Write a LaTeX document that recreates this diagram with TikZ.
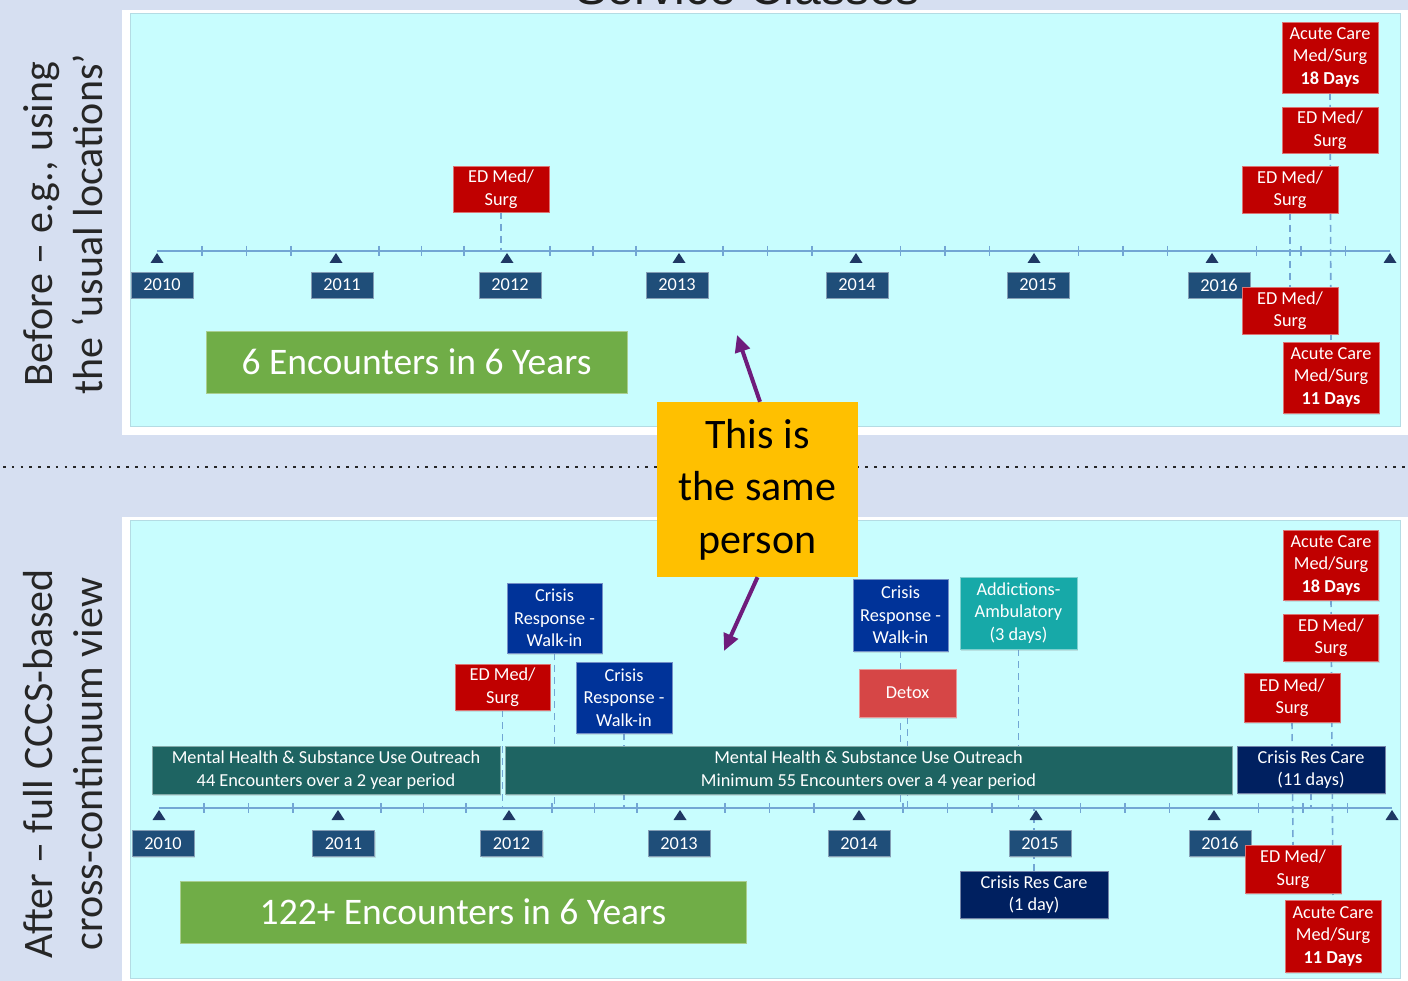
\documentclass[tikz,border=0pt]{standalone}
\usepackage{fontspec}
\setmainfont{Carlito}
\newfontfamily\titlefont{Liberation Sans}
\usetikzlibrary{arrows.meta,calc,shadows}

\definecolor{pagebg}{HTML}{D6DFF1}
\definecolor{panelcyan}{HTML}{C8FDFE}
\definecolor{cyanedge}{HTML}{B4DCE4}
\definecolor{edred}{HTML}{C00000}
\definecolor{detoxred}{HTML}{D64646}
\definecolor{crisisblue}{HTML}{003399}
\definecolor{resnavy}{HTML}{002060}
\definecolor{addteal}{HTML}{17A9A8}
\definecolor{outreach}{HTML}{1E6462}
\definecolor{yearblue}{HTML}{1F4E79}
\definecolor{trinavy}{HTML}{1F3864}
\definecolor{axisblue}{HTML}{72A6D4}
\definecolor{countgreen}{HTML}{70AD47}
\definecolor{noteyellow}{HTML}{FFC000}
\definecolor{arrowpurple}{HTML}{6E1C7C}

\newcommand\boxfont{\fontsize{18.3}{22.5}\selectfont}
\newcommand\sidefont{\fontsize{42}{50}\selectfont}

\pgfdeclarelayer{panels}
\pgfdeclarelayer{events}
\pgfsetlayers{panels,events,main}

\begin{document}
\begin{tikzpicture}[x=1pt,y=-1pt,
  evbox/.style={rectangle, inner sep=0pt, outer sep=0pt, align=center,
    text=white, font=\boxfont, fill=#1, draw=#1!55!white, line width=0.7pt,
    drop shadow={shadow xshift=1.2pt, shadow yshift=-1.5pt, opacity=0.22}},
  wh/.style 2 args={minimum width=#1pt, minimum height=#2pt},
  yearbox/.style={evbox=yearblue, wh={62}{26}, drop shadow={opacity=0}},
  countbox/.style={rectangle, inner sep=0pt, fill=countgreen,
    draw=countgreen!60!white, line width=0.7pt, text=white,
    font=\fontsize{37.5}{40}\selectfont},
  axisline/.style={draw=axisblue, line width=1.6pt},
  evline/.style={draw=axisblue, line width=1.6pt, dash pattern=on 7pt off 5pt},
  tri/.style={fill=trinavy},
  parrow/.style={draw=arrowpurple, line width=4pt,
    -{Triangle[length=17pt,width=15pt]}},
  sepline/.style={draw=black!85, line width=2.6pt, dash pattern=on 2.6pt off 6.2pt},
]
\clip (0,0) rectangle (1408,981);

% ---------- backdrop, panels, separator, side captions ----------
\begin{pgfonlayer}{panels}
  \fill[pagebg] (0,0) rectangle (1408,981);
  \node[anchor=base, font=\titlefont\fontsize{48}{48}\selectfont, text=black!88]
    (title) at (748,5) {Service Classes};
  \fill[white] (122,10) rectangle (1408,435);
  \filldraw[fill=panelcyan, draw=cyanedge, line width=0.8pt] (130,13) rectangle (1400,426);
  \fill[white] (122,517) rectangle (1408,981);
  \filldraw[fill=panelcyan, draw=cyanedge, line width=0.8pt] (130,520) rectangle (1400,978);
  \draw[sepline] (3,467) -- (1408,467);
  \node[rotate=90, align=center, font=\sidefont, text=black!85] (capbefore)
    at (63,224) {Before – e.g., using\\the ‘usual locations’};
  \node[rotate=90, align=center, font=\sidefont, text=black!85] (capafter)
    at (63,764) {After – full CCCS-based\\cross-continuum view};
\end{pgfonlayer}

% ---------- top timeline ----------
\draw[axisline] (157,251) coordinate (tAx0) -- (1390,251) coordinate (tAx1);
\foreach \a/\b in {157/336,336/507,507/679,679/856,856/1034,1034/1212,1212/1390}
  \foreach \k in {1,2,3}
    \draw[axisline] ({\a+(\b-\a)*\k/4},246) -- ++(0,10);
\foreach \p in {157,336,507,679,856,1034,1212,1390}
  \fill[tri] (\p,253) -- ++(6.5,10) -- ++(-13,0) -- cycle;
\foreach \c/\t in {162/2010,342/2011,510/2012,677/2013,857/2014,1038/2015,1219/2016}
  \node[yearbox] (ty\t) at (\c,285) {\t};

% ---------- bottom timeline ----------
\draw[axisline] (159,808) coordinate (bAx0) -- (1392,808) coordinate (bAx1);
\foreach \a/\b in {159/338,338/509,509/680,680/859,859/1036,1036/1214,1214/1392}
  \foreach \k in {1,2,3}
    \draw[axisline] ({\a+(\b-\a)*\k/4},803) -- ++(0,10);
\foreach \p in {159,338,509,680,859,1036,1214,1392}
  \fill[tri] (\p,810) -- ++(6.5,10) -- ++(-13,0) -- cycle;
\foreach \c/\t in {163/2010,343.5/2011,511.5/2012,679/2013,859/2014,1040/2015,1220/2016}
  \node[yearbox] (by\t) at (\c,843.5) {\t};

% ---------- top panel encounters ----------
\node[evbox=edred, wh={96}{46}] (tE1) at (501,189) {ED Med/\\Surg};
\node[evbox=edred, wh={96}{71}] (tA18) at (1330,57.5) {Acute Care\\Med/Surg\\\textbf{18 Days}};
\node[evbox=edred, wh={96}{46}] (tE3) at (1330,130) {ED Med/\\Surg};
\node[evbox=edred, wh={96}{47}] (tE2) at (1290,189.5) {ED Med/\\Surg};
\node[evbox=edred, wh={96}{47}] (tE4) at (1290,310.5) {ED Med/\\Surg};
\node[evbox=edred, wh={96}{71}] (tA11) at (1331,377.5) {Acute Care\\Med/Surg\\\textbf{11 Days}};
\node[countbox, wh={421}{62}] (tcount) at (416.5,362) {6 Encounters in 6 Years};

% ---------- bottom panel encounters ----------
\node[evbox=outreach, wh={348}{48}] (bO1) at (326,770)
  {Mental Health \& Substance Use Outreach\\44 Encounters over a 2 year period};
\node[evbox=outreach, wh={727}{48}] (bO2) at (868.5,770)
  {Mental Health \& Substance Use Outreach\\Minimum 55 Encounters over a 4 year period};
\node[evbox=edred, wh={95}{46}] (bE1) at (502.5,687) {ED Med/\\Surg};
\node[evbox=crisisblue, wh={95}{70}] (bC1) at (554.5,618) {Crisis\\Response -\\Walk-in};
\node[evbox=crisisblue, wh={96}{71}] (bC2) at (624,697.5) {Crisis\\Response -\\Walk-in};
\node[evbox=crisisblue, wh={95}{72}] (bC3) at (900.5,615) {Crisis\\Response -\\Walk-in};
\node[evbox=detoxred, wh={97}{48}] (bDx) at (907.5,693) {Detox};
\node[evbox=addteal, wh={117}{72}] (bAd) at (1018.5,613) {Addictions-\\Ambulatory\\(3 days)};
\node[evbox=resnavy, wh={148}{47}] (bCR11) at (1311,769.5) {Crisis Res Care\\(11 days)};
\node[evbox=resnavy, wh={148}{47}] (bCR1) at (1034,894.5) {Crisis Res Care\\(1 day)};
\node[evbox=edred, wh={95}{70}] (bA18) at (1331,565) {Acute Care\\Med/Surg\\\textbf{18 Days}};
\node[evbox=edred, wh={95}{47}] (bE3) at (1331,637.5) {ED Med/\\Surg};
\node[evbox=edred, wh={96}{49}] (bE2) at (1292,697.5) {ED Med/\\Surg};
\node[evbox=edred, wh={96}{48}] (bE4) at (1293,869) {ED Med/\\Surg};
\node[evbox=edred, wh={96}{72}] (bA11) at (1333,936) {Acute Care\\Med/Surg\\\textbf{11 Days}};
\node[countbox, wh={566}{62}] (bcount) at (463,912) {122+ Encounters in 6 Years};

% ---------- dashed event markers (behind the boxes) ----------
\begin{pgfonlayer}{events}
  \draw[evline] (tE1.south) -- (tE1.south |- tAx0);
  \draw[evline] (tE2.south) -- (tE4.north);
  \draw[evline] (tA18.south) -- (tA11.north);
  \draw[evline] (bE1.south) -- (bE1.south |- bAx0);
  \draw[evline] (bC1.south) -- (bC1.south |- bAx0);
  \draw[evline] (bC2.south) -- (bC2.south |- bAx0);
  \draw[evline] (bC3.south) -- (bC3.south |- bAx0);
  \draw[evline] (bDx.south) -- (bDx.south |- bAx0);
  \draw[evline] (bAd.south) -- (bAd.south |- bAx0);
  \draw[evline] (bCR1.north) -- (bCR1.north |- bAx0);
  \draw[evline] (bCR11.south) -- (bCR11.south |- bAx0);
  \draw[evline] (bE2.south) -- (bE4.north);
  \draw[evline] (bA18.south) -- (bA11.north);
\end{pgfonlayer}

% ---------- linking note ----------
\node[rectangle, inner sep=0pt, fill=noteyellow, wh={201}{175}, align=center,
  font=\fontsize{42}{52.5}\selectfont, text=black] (note) at (757.5,489.5)
  {This is\\the same\\person};
\coordinate (upTip) at (737,335);
\coordinate (downTip) at (724,651);
\draw[parrow] ($(note.north)+(2.5,0)$) -- (upTip);
\draw[parrow] (note.south) -- (downTip);
\end{tikzpicture}
\end{document}
